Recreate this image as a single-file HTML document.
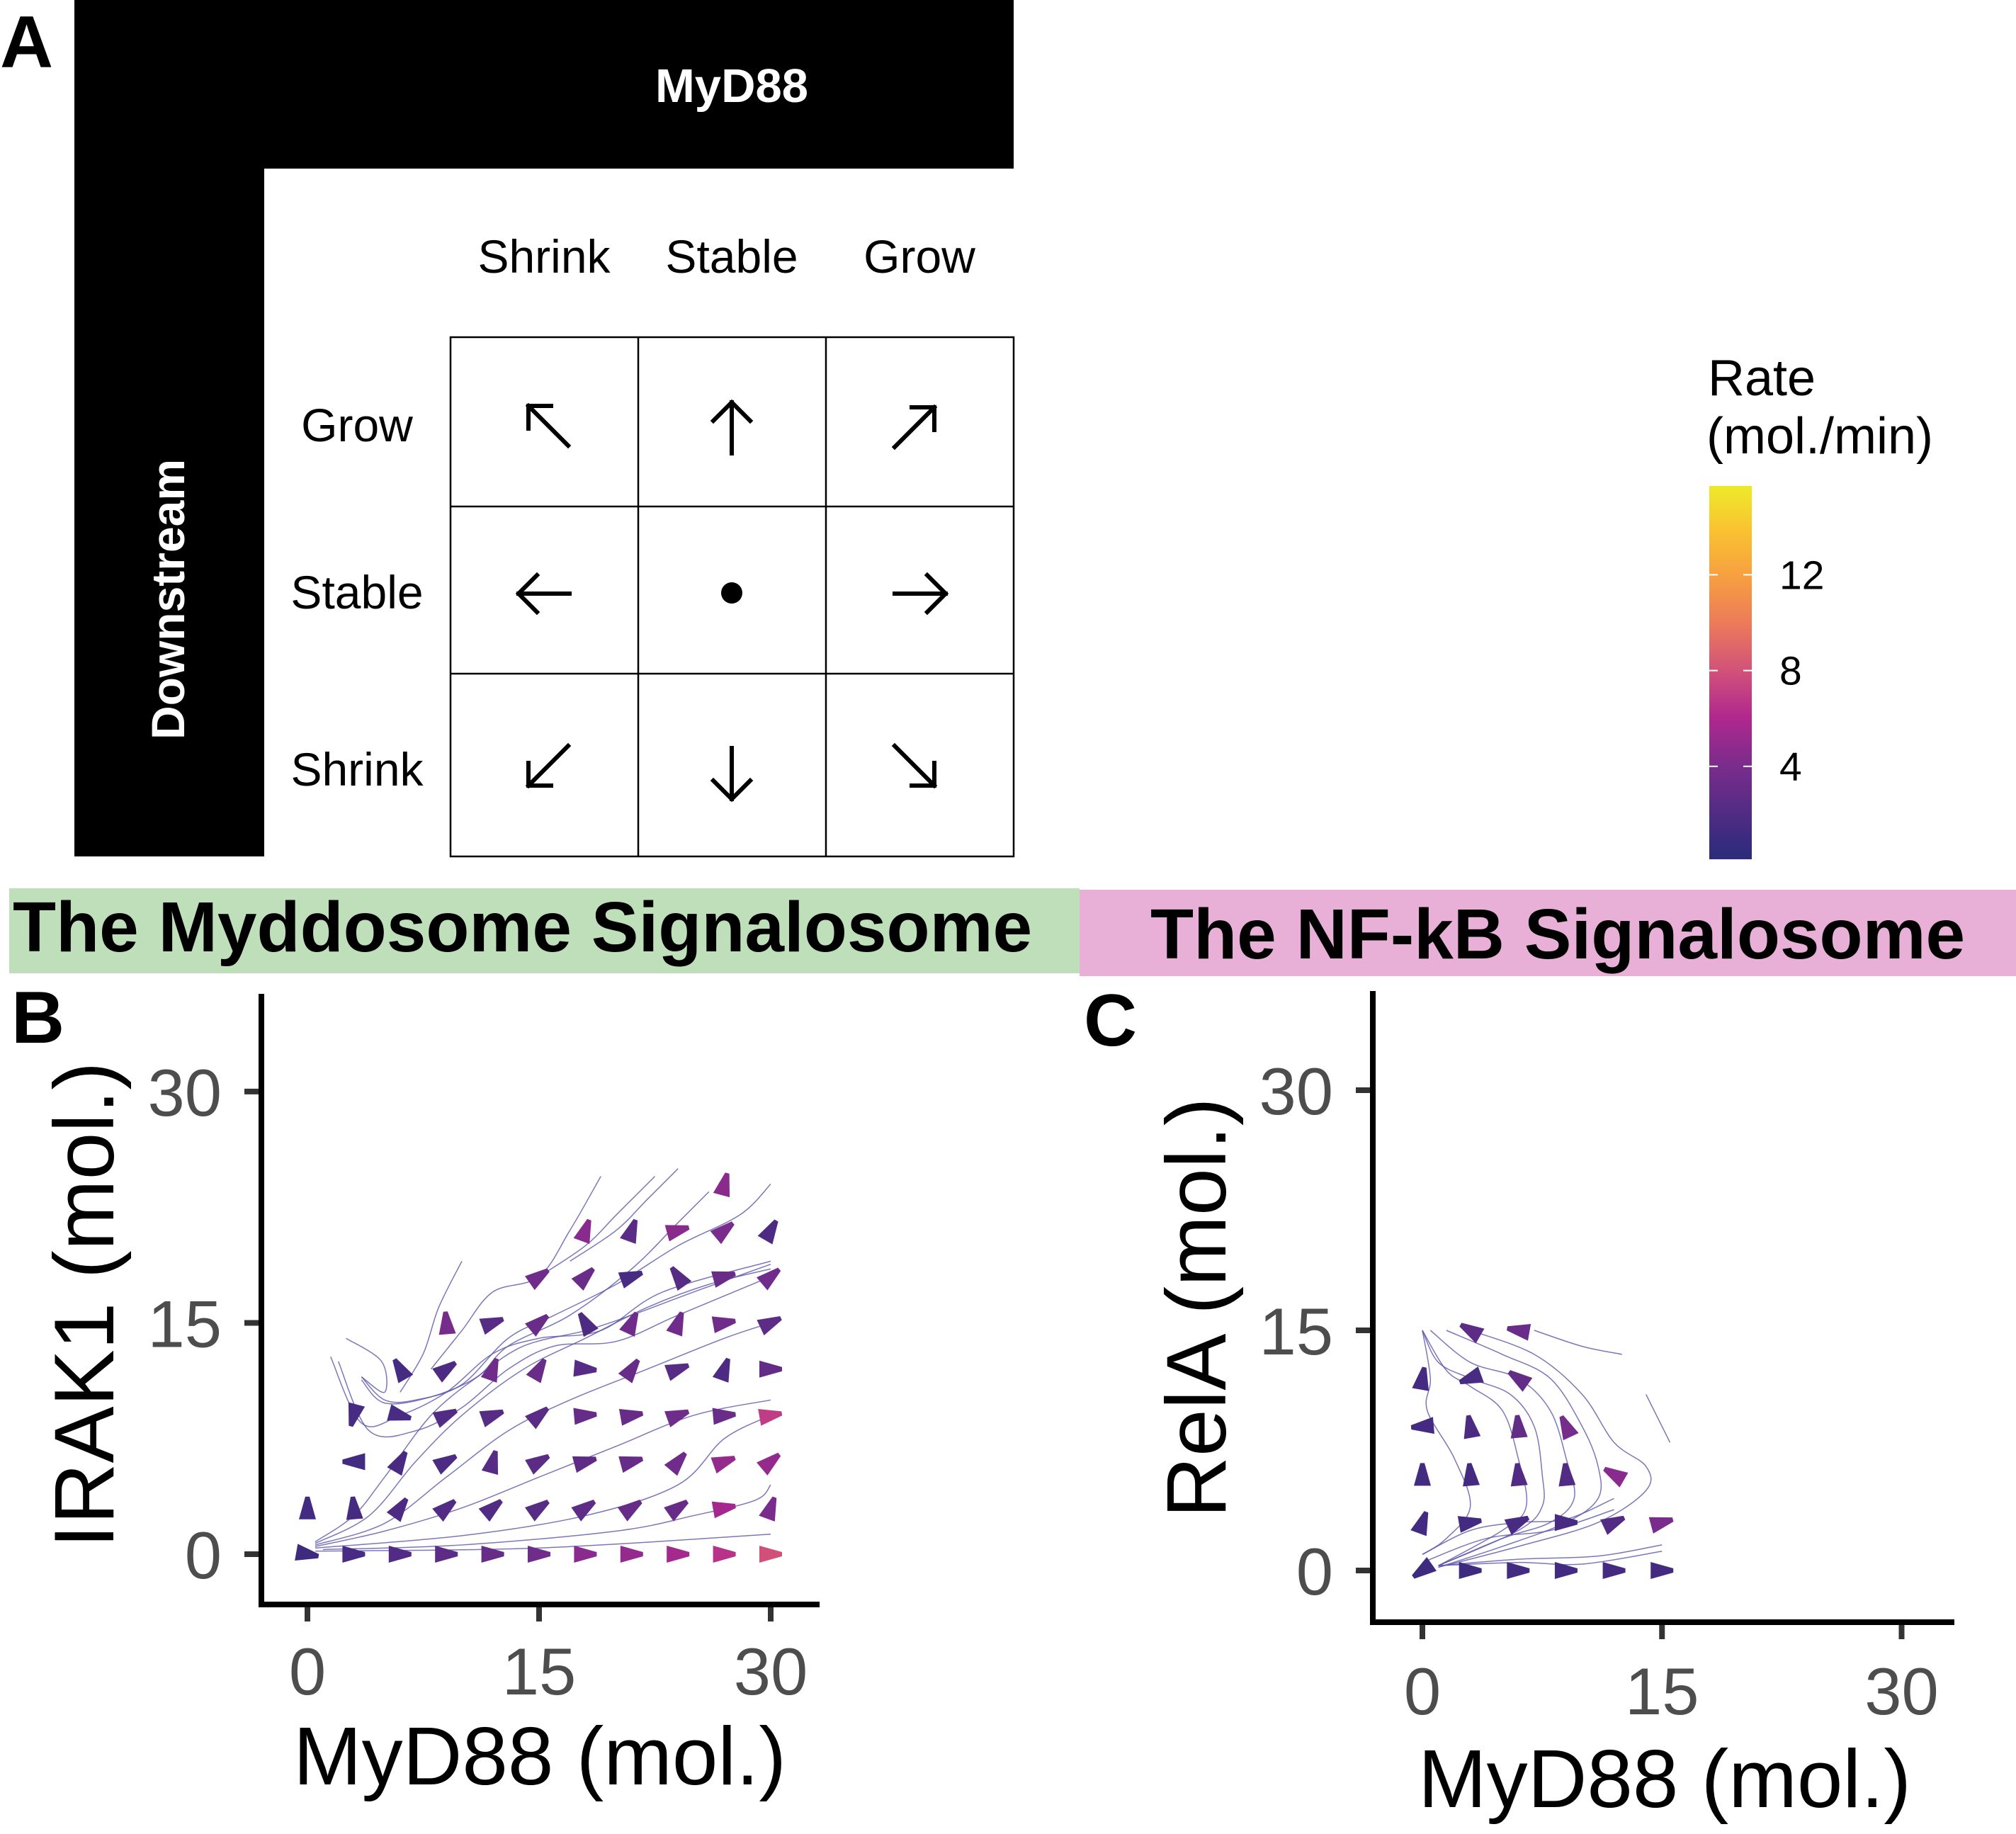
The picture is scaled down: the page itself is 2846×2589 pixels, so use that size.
<!DOCTYPE html>
<html><head><meta charset="utf-8">
<style>
html,body{margin:0;padding:0;background:#fff;}
svg{display:block;}
text{font-family:"Liberation Sans",Arial,sans-serif;}
</style></head>
<body>
<svg id="fig" width="2846" height="2589" viewBox="0 0 2846 2589" xmlns="http://www.w3.org/2000/svg">
<defs>
<linearGradient id="plasma" x1="0" y1="1" x2="0" y2="0">
<stop offset="0" stop-color="#2a2b7c"/>
<stop offset="0.25" stop-color="#7a2c8c"/>
<stop offset="0.38" stop-color="#b0288e"/>
<stop offset="0.5" stop-color="#d0507a"/>
<stop offset="0.63" stop-color="#ec7a5a"/>
<stop offset="0.76" stop-color="#f7a040"/>
<stop offset="0.89" stop-color="#f9c530"/>
<stop offset="1" stop-color="#eeea2a"/>
</linearGradient>
</defs>

<!-- Panel A -->
<g>
<text x="0" y="95" font-size="104" font-weight="bold">A</text>
<path d="M105,0 H1431 V238 H373 V1209 H105 Z" fill="#000"/>
<text x="1033" y="144" font-size="67" font-weight="bold" fill="#fff" text-anchor="middle">MyD88</text>
<text transform="translate(260,846) rotate(-90)" font-size="66" font-weight="bold" fill="#fff" text-anchor="middle">Downstream</text>
<g font-size="66" text-anchor="middle">
<text x="768" y="385">Shrink</text><text x="1033" y="385">Stable</text><text x="1298" y="385">Grow</text>
</g>
<g font-size="66" text-anchor="middle">
<text x="504" y="623">Grow</text><text x="504" y="859">Stable</text><text x="504" y="1109">Shrink</text>
</g>
<g stroke="#000" stroke-width="2.5" fill="none">
<rect x="636" y="476" width="795" height="733"/>
<line x1="901" y1="476" x2="901" y2="1209"/><line x1="1166" y1="476" x2="1166" y2="1209"/>
<line x1="636" y1="715" x2="1431" y2="715"/><line x1="636" y1="951" x2="1431" y2="951"/>
</g>
<g stroke="#000" stroke-width="6" fill="none" stroke-linecap="square">
<path d="M802,629 L746,573 M746,573 V605 M746,573 H778"/>
<path d="M1033,640 V568 M1007,594 L1033,568 L1059,594"/>
<path d="M1263,631 L1319,575 M1319,575 V607 M1319,575 H1287"/>
<path d="M804,838 H732 M758,812 L732,838 L758,864"/>
<path d="M1263,838 H1335 M1309,812 L1335,838 L1309,864"/>
<path d="M802,1053 L746,1109 M746,1109 V1077 M746,1109 H778"/>
<path d="M1033,1056 V1128 M1007,1102 L1033,1128 L1059,1102"/>
<path d="M1263,1053 L1319,1109 M1319,1109 V1077 M1319,1109 H1287"/>
</g>
<circle cx="1033" cy="837" r="15" fill="#000"/>
</g>

<!-- Legend -->
<g>
<text x="2411" y="558" font-size="72">Rate</text>
<text x="2409" y="640" font-size="72">(mol./min)</text>
<rect x="2413" y="686" width="60" height="527" fill="url(#plasma)"/>
<g id="cbticks"></g>
</g>

<!-- Banners -->
<rect x="13" y="1254" width="1511" height="120" fill="#bfdeba"/>
<text x="18" y="1343" font-size="100" font-weight="bold">The Myddosome Signalosome</text>
<rect x="1524" y="1256" width="1322" height="122" fill="#e8b0d6"/>
<text x="1624" y="1353" font-size="100" font-weight="bold">The NF-kB Signalosome</text>

<text x="16" y="1472" font-size="104" font-weight="bold">B</text>
<text x="1530" y="1476" font-size="104" font-weight="bold">C</text>

<g id="panelB"></g>
<g id="panelC"></g>
</svg>

<script>
// ---------- Legend data ----------
const legendTicks = [4, 8, 12];
// ---------- Panel B data ----------
const bTicks = [0, 15, 30];
const bX = [0,3,6,9,12,15,18,21,24,27,30, 0,3,6,9,12,15,18,21,24,27,30, 3,6,9,12,15,18,21,24,27,30, 3,6,9,12,15,18,21,24,27,30, 6,9,12,15,18,21,24,27,30, 9,12,15,18,21,24,27,30, 15,18,21,24,27,30, 18,21,24,27,30, 27];
const bY = [0,0,0,0,0,0,0,0,0,0,0, 3,3,3,3,3,3,3,3,3,3,3, 6,6,6,6,6,6,6,6,6,6, 9,9,9,9,9,9,9,9,9,9, 12,12,12,12,12,12,12,12,12, 15,15,15,15,15,15,15,15, 18,18,18,18,18,18, 21,21,21,21,21, 24];
const bAngle = [-10,0,0,0,0,0,0,0,0,0,0, 90,95,55,40,40,35,35,35,35,10,70, 180,60,30,75,30,15,15,50,20,40, -105,-15,25,20,40,5,10,20,5,10, 120,35,70,60,-5,55,20,70,0, 95,20,40,120,65,70,10,25, 35,45,20,125,15,40, 70,70,15,40,60, 75];
const bRate = [1,1.5,2,2.5,3,3.5,4.5,5,5.5,6.5,8, 1.2,1.3,1.8,2,2,2.2,2.6,3,3,5.5,4, 1.2,1.6,1.8,2.2,2.4,2.6,3,3.5,5,5, 1.5,1.5,2,2.2,2.4,3,3,3.5,3.2,7, 1.4,1.8,3.5,3.2,2.2,3,2.2,1.8,2.8, 3.8,2.2,3.2,1.8,3.5,3.5,3.5,2.5, 3.5,3.2,1.5,2.2,3.2,3.5, 4.5,2.4,4.5,4,1.8, 4.5];
const bStreams = [
 [[0.5,0.5],[5,1.5],[10,3],[15,5],[20,7],[25,9],[30,10]],
 [[0.5,0.6],[5,2],[9,5],[13,8],[17,10],[22,12],[27,14],[30,15]],
 [[0.5,0.7],[4,2.5],[7,6],[10,9],[14,12],[18,14],[22,16],[26,17.5],[30,18.5]],
 [[0.5,0.8],[3,2.5],[5,5],[8,9],[11,11.5],[14,13.5],[18,14.5],[21,15.5],[25,17],[30,18.8]],
 [[1,0.3],[10,0.6],[20,1.5],[25,2.5],[29,3.5],[30,4.5]],
 [[0.5,0.2],[15,0.4],[30,1.3]],
 [[0.5,0.4],[10,1.2],[18,2.5],[24,4.5],[27,7.5],[30,9]],
 [[3.5,11.5],[5,10],[7,10],[10,11],[13,14],[16,15.5],[20,17.5],[24,20],[28,22],[30,24]],
 [[3.5,11.3],[5,9.8],[8,10.2],[11,11.5],[13,13.5],[17,15.5],[21,18.5],[24,21.5],[26,23.5]],
 [[2,12.5],[4,8],[7,8],[10,9.5],[13,12],[16,13.5],[20,13.8],[24,15.5],[30,18]],
 [[1.5,12.8],[3.5,8.5],[6,9],[9,10.5],[12,13],[15,14],[19,14.5],[23,17],[30,19]],
 [[6,10.5],[7.5,13],[8.5,16],[10,19]],
 [[8,12],[10,14.5],[12,17],[15,18],[17,21],[19,24.5]],
 [[15,18],[18,20],[20,22],[22.5,24.5]],
 [[17,19],[20,21],[22,23],[24,25]],
 [[3.5,11.5],[5,10.5],[4.8,12.5],[2.5,14]]
];
// ---------- Panel C data ----------
const cTicks = [0, 15, 30];
const cX = [0,3,6,9,12,15, 0,3,6,9,12,15, 0,3,6,9,12, 0,3,6,9, 0,3,6, 3,6];
const cY = [0,0,0,0,0,0, 3,3,3,3,3,3, 6,6,6,6,6, 9,9,9,9, 12,12,12, 15,15];
const cAngle = [215,0,0,0,0,0, 70,10,25,0,25,15, 90,95,95,95,150, 185,100,95,115, 80,200,145, 150,170];
const cRate = [1,1,1.2,1.2,1.3,1.3, 1.2,1.2,1.5,1.5,2,4, 1.2,1.3,2,2,4.5, 1.3,1.8,2.8,3.8, 1.3,1.5,2.8, 2.5,3.2];
const cStreams = [
 [[0,15],[0.5,12],[0.3,10],[2,7],[3,4],[1.5,2],[0,1]],
 [[0,15],[1.5,12.5],[3,11.5],[5,10],[6,7],[6.5,4],[5,2.5],[1,0.3]],
 [[0,15],[1,13],[3,12],[5.5,11],[7,9],[7.5,6],[7.5,4],[6,2.5],[1,0.3]],
 [[0.5,15],[3,13],[6,12],[8,10],[9,7],[9.5,4.5],[8,3],[5,2],[1,0.3]],
 [[1.5,15],[5,13.5],[8,12],[10,9],[11,6.5],[11,4.5],[9,3],[5,1.5],[1,0.2]],
 [[3,15],[7,13.5],[10,11],[12,8],[14,6.5],[14,5],[11,3],[6,1.5],[1,0.2]],
 [[1,0.3],[6,0.5],[10,0.4],[15,1.2]],
 [[1,0.3],[6,0.7],[11,0.9],[15,1.6]],
 [[0,1],[3,2.5],[6,3],[9,3.2],[12,4.5]],
 [[0,0.5],[4,2],[8,2.5],[12,3.8]],
 [[14,11],[15.5,8]],
 [[7,15],[10,14],[12.5,13.5]]
];

// ---------- helpers ----------
const NS = 'http://www.w3.org/2000/svg';
const cStops = [[0,[42,43,124]],[4,[122,44,140]],[6,[176,40,142]],[8,[208,80,122]],[10,[236,122,90]],[12,[247,160,64]],[14,[249,197,48]],[15.7,[238,234,42]]];
function rateColor(r){
  for(let i=1;i<cStops.length;i++){
    if(r<=cStops[i][0]){
      const a=cStops[i-1],b=cStops[i],t=(r-a[0])/(b[0]-a[0]);
      const c=a[1].map((v,k)=>Math.round(v+(b[1][k]-v)*t));
      return 'rgb('+c.join(',')+')';
    }
  }
  return 'rgb(238,234,42)';
}
function mk(tag,attrs,parent){const e=document.createElementNS(NS,tag);for(const k in attrs)e.setAttribute(k,attrs[k]);parent.appendChild(e);return e;}
function smoothPath(P){
  if(P.length<3) return 'M'+P.map(p=>p[0]+','+p[1]).join(' L');
  let d='M'+P[0][0]+','+P[0][1];
  for(let i=0;i<P.length-1;i++){
    const p0=P[i-1]||P[i],p1=P[i],p2=P[i+1],p3=P[i+2]||p2;
    const c1=[p1[0]+(p2[0]-p0[0])/6,p1[1]+(p2[1]-p0[1])/6];
    const c2=[p2[0]-(p3[0]-p1[0])/6,p2[1]-(p3[1]-p1[1])/6];
    d+=' C'+c1[0]+','+c1[1]+' '+c2[0]+','+c2[1]+' '+p2[0]+','+p2[1];
  }
  return d;
}

// legend ticks
const cb = document.getElementById('cbticks');
const cbY = v => 1217 - v*33.8;
legendTicks.forEach(v=>{
  const y=cbY(v);
  const t1=mk('line',{x1:2413,x2:2425,y1:y,y2:y,stroke:'#fff','stroke-width':2},cb);
  
  
  const t2=mk('line',{x1:2461,x2:2473,y1:y,y2:y,stroke:'#fff','stroke-width':2},cb);
  
  
  const lb=mk('text',{x:2512,y:y+20,'font-size':57},cb);
  lb.textContent=v;
  
  
});

function drawPanel(g,cfg){
  const sx=v=>cfg.x0+v*cfg.kx, sy=v=>cfg.y0-v*cfg.ky;
  cfg.streams.forEach(s=>{
    const p=mk('path',{d:smoothPath(s.map(q=>[sx(q[0]),sy(q[1])])),fill:'none',stroke:'#5a55aa','stroke-width':1.5,'stroke-opacity':0.8},g);
    
    
  });
  for(let i=0;i<cfg.xs.length;i++){
    const cx=sx(cfg.xs[i]), cy=sy(cfg.ys[i]);
    const m=mk('polygon',{points:'-16,-12 16,-3 16,3 -16,12',fill:rateColor(cfg.rates[i]),transform:'translate('+cx+','+cy+') rotate('+(-cfg.angles[i])+')'},g);
    
    
  }
  const ax=mk('path',{d:'M'+cfg.axX+','+cfg.top+' V'+cfg.axY+' H'+cfg.right,fill:'none',stroke:'#000','stroke-width':8},g);
  
  
  cfg.ticks.forEach(v=>{
    const tx=mk('line',{x1:sx(v),x2:sx(v),y1:cfg.axY+4,y2:cfg.axY+24,stroke:'#333','stroke-width':8},g);
    
    
    const lx=mk('text',{x:sx(v),y:cfg.xLabY,'font-size':94,fill:'#4d4d4d','text-anchor':'middle'},g);
    lx.textContent=v;
    
    
    const ty=mk('line',{x1:cfg.axX-24,x2:cfg.axX-4,y1:sy(v),y2:sy(v),stroke:'#333','stroke-width':8},g);
    
    
    const ly=mk('text',{x:cfg.axX-56,y:sy(v)+34,'font-size':94,fill:'#4d4d4d','text-anchor':'end'},g);
    ly.textContent=v;
    
    
  });
  const xt=mk('text',{x:cfg.xTitleX,y:cfg.xTitleY,'font-size':116,'text-anchor':'middle'},g);
  xt.textContent='MyD88 (mol.)';
  
  
  const yt=mk('text',{transform:'translate('+cfg.yTitleX+','+cfg.yTitleY+') rotate(-90)','font-size':cfg.yTitleSize,'text-anchor':'middle'},g);
  yt.textContent=cfg.yTitle;
  
  
}

drawPanel(document.getElementById('panelB'),{
  x0:434,kx:21.8,y0:2194,ky:21.77,xs:bX,ys:bY,angles:bAngle,rates:bRate,streams:bStreams,ticks:bTicks,
  axX:369,axY:2265,top:1403,right:1157,xLabY:2392,xTitleX:762,xTitleY:2519,yTitleX:160,yTitleY:1842,yTitleSize:120,yTitle:'IRAK1 (mol.)'
});
drawPanel(document.getElementById('panelC'),{
  x0:2008,kx:22.55,y0:2217,ky:22.6,xs:cX,ys:cY,angles:cAngle,rates:cRate,streams:cStreams,ticks:cTicks,
  axX:1938,axY:2290,top:1399,right:2759,xLabY:2420,xTitleX:2350,xTitleY:2551,yTitleX:1730,yTitleY:1846,yTitleSize:120,yTitle:'RelA (mol.)'
});
</script>
</body></html>
